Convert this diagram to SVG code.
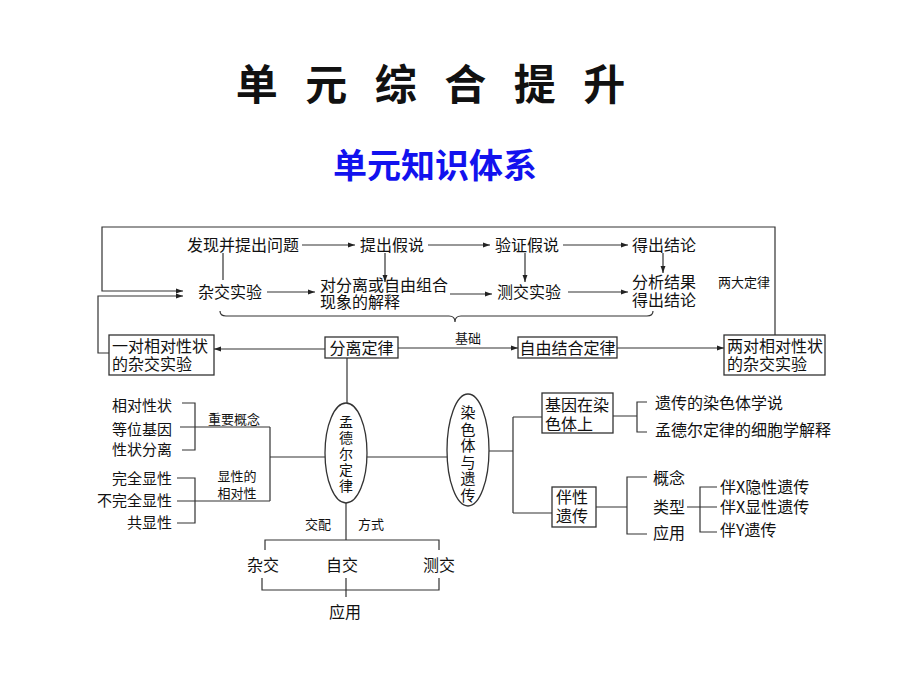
<svg xmlns="http://www.w3.org/2000/svg" width="920" height="690" viewBox="0 0 920 690">
<defs>
<marker id="ah" viewBox="0 0 10 10" refX="10" refY="5" markerWidth="7" markerHeight="7" markerUnits="userSpaceOnUse" orient="auto">
<path d="M0,1.5 L10,5 L0,8.5 Z" fill="#222"/>
</marker>
<style>
text{font-family:"Noto Sans CJK SC","Liberation Serif",sans-serif;fill:#111;}
.t{font-size:16px;}
.s{font-size:13px;}
.m{font-size:15px;}
.v1{font-size:14px;}
.v2{font-size:15px;}
.box{fill:#fff;stroke:#333;stroke-width:1.3;}
.ln{fill:none;stroke:#333;stroke-width:1.2;}
.ar{fill:none;stroke:#333;stroke-width:1.2;marker-end:url(#ah);}
</style>
</defs>
<rect width="920" height="690" fill="#fff"/>
<text x="435" y="100" text-anchor="middle" style="font-size:42px;font-weight:bold;font-family:'Noto Sans CJK SC',sans-serif;letter-spacing:9px">单 元 综 合 提 升</text>
<text x="435" y="178" text-anchor="middle" style="font-size:34px;font-weight:bold;fill:#1212EE;font-family:'Noto Sans CJK SC',sans-serif">单元知识体系</text>

<g id="connectors">
<path class="ar" d="M775,335 V227 H102 V291 H183"/>
<path class="ar" d="M110,353 H98 V296 H183"/>
<path class="ar" d="M302,245 H355"/>
<path class="ar" d="M428,245 H490"/>
<path class="ar" d="M563,245 H628"/>
<path class="ln" d="M223,253 V280"/>
<path class="ar" d="M385,253 V282"/>
<path class="ar" d="M525,253 V282"/>
<path class="ar" d="M663,253 V273"/>
<path class="ar" d="M267,292 H315"/>
<path class="ar" d="M450,294 H492"/>
<path class="ar" d="M568,292 H628"/>
<path class="ln" d="M220,311 Q220,316 226,316 H449 Q455,316 455,322 Q455,316 461,316 H647 Q653,316 653,311"/>
<path class="ar" d="M325,349 H214"/>
<path class="ar" d="M398,348 H518"/>
<path class="ar" d="M617,348 H724"/>
<path class="ln" d="M347,358 V403"/>
<path class="ln" d="M270,457 H325 M270,427 V501 M180,427 H270 M182,403 H195 V450 H182 M177,501 H270 M177,478 H195 V523 H177"/>
<path class="ln" d="M367,457 H447"/>
<path class="ln" d="M489,451 H513 M513,417 V513 M513,417 H542 M513,513 H552"/>
<path class="ln" d="M613,416 H637 M647,402 H637 V432 H647"/>
<path class="ln" d="M596,507 H627 M647,477 H627 V534 H647"/>
<path class="ln" d="M687,507 H717 M717,487 H700 V532 H717"/>
<path class="ln" d="M346,503 V540 M265,550 V540 H439 V550 M262,578 V590 H439 V578 M346,578 V597"/>
</g>

<g id="n-faxian"><text class="t" x="187" y="251">发现并提出问题</text></g>
<g id="n-tichu"><text class="t" x="360" y="251">提出假说</text></g>
<g id="n-yanzheng"><text class="t" x="495" y="251">验证假说</text></g>
<g id="n-dechu"><text class="t" x="632" y="251">得出结论</text></g>
<g id="n-zajiao"><text class="t" x="198" y="298">杂交实验</text></g>
<g id="n-jieshi"><text class="t" x="320" y="291">对分离或自由组合</text><text class="t" x="320" y="308">现象的解释</text></g>
<g id="n-cejiao"><text class="t" x="497" y="298">测交实验</text></g>
<g id="n-fenxi"><text class="t" x="632" y="288">分析结果</text><text class="t" x="632" y="306">得出结论</text></g>
<g id="l-lianda"><text class="s" x="718" y="287">两大定律</text></g>
<g id="l-jichu"><text class="s" x="455" y="343">基础</text></g>

<g id="n-yidui"><rect class="box" x="109" y="335" width="105" height="40"/><text class="t" x="112" y="352">一对相对性状</text><text class="t" x="112" y="370">的杂交实验</text></g>
<g id="n-fenli"><rect class="box" x="325" y="337" width="73" height="21"/><text class="t" x="361.5" y="354" text-anchor="middle">分离定律</text></g>
<g id="n-ziyou"><rect class="box" x="518" y="337" width="99" height="21"/><text class="t" x="567.5" y="354" text-anchor="middle">自由结合定律</text></g>
<g id="n-liangdui"><rect class="box" x="724" y="335" width="101" height="40"/><text class="t" x="727" y="352">两对相对性状</text><text class="t" x="727" y="370">的杂交实验</text></g>

<g id="n-mendel"><ellipse class="box" cx="346" cy="453" rx="21" ry="50"/>
<text class="v1" text-anchor="middle"><tspan x="346" y="427">孟</tspan><tspan x="346" y="443">德</tspan><tspan x="346" y="459">尔</tspan><tspan x="346" y="475">定</tspan><tspan x="346" y="491">律</tspan></text></g>
<g id="n-ranse"><ellipse class="box" cx="468" cy="450" rx="21" ry="56"/>
<text class="v2" text-anchor="middle"><tspan x="468" y="418">染</tspan><tspan x="468" y="434.5">色</tspan><tspan x="468" y="451">体</tspan><tspan x="468" y="467.5">与</tspan><tspan x="468" y="484">遗</tspan><tspan x="468" y="500.5">传</tspan></text></g>

<g id="n-concepts"><text class="m" x="172" y="411" text-anchor="end">相对性状</text><text class="m" x="172" y="435" text-anchor="end">等位基因</text><text class="m" x="172" y="455" text-anchor="end">性状分离</text></g>
<g id="l-zhongyao"><text class="s" x="208" y="424">重要概念</text></g>
<g id="n-xianxing"><text class="m" x="172" y="484" text-anchor="end">完全显性</text><text class="m" x="172" y="506" text-anchor="end">不完全显性</text><text class="m" x="172" y="528" text-anchor="end">共显性</text></g>
<g id="l-xianxingde"><text class="s" x="237" y="481" text-anchor="middle">显性的</text><text class="s" x="237" y="498" text-anchor="middle">相对性</text></g>

<g id="n-jiyin"><rect class="box" x="542" y="393" width="71" height="40"/><text class="t" x="545" y="411">基因在染</text><text class="t" x="545" y="430">色体上</text></g>
<g id="n-yichuan1"><text class="t" x="655" y="409">遗传的染色体学说</text></g>
<g id="n-yichuan2"><text class="t" x="655" y="436">孟德尔定律的细胞学解释</text></g>
<g id="n-banxing"><rect class="box" x="552" y="487" width="44" height="40"/><text class="t" x="556" y="503">伴性</text><text class="t" x="556" y="522">遗传</text></g>
<g id="n-gainian"><text class="t" x="653" y="484">概念</text></g>
<g id="n-leixing"><text class="t" x="653" y="513">类型</text></g>
<g id="n-yingyong1"><text class="t" x="653" y="539">应用</text></g>
<g id="n-bx1"><text class="t" x="720" y="493">伴X隐性遗传</text></g>
<g id="n-bx2"><text class="t" x="720" y="513">伴X显性遗传</text></g>
<g id="n-by"><text class="t" x="720" y="536">伴Y遗传</text></g>

<g id="l-jiaopei"><text class="s" x="305" y="529">交配</text><text class="s" x="358" y="529">方式</text></g>
<g id="n-zajiao2"><text class="t" x="263" y="571" text-anchor="middle">杂交</text></g>
<g id="n-zijiao"><text class="t" x="342" y="571" text-anchor="middle">自交</text></g>
<g id="n-cejiao2"><text class="t" x="439" y="571" text-anchor="middle">测交</text></g>
<g id="n-yingyong2"><text class="t" x="345" y="618" text-anchor="middle">应用</text></g>
</svg>
